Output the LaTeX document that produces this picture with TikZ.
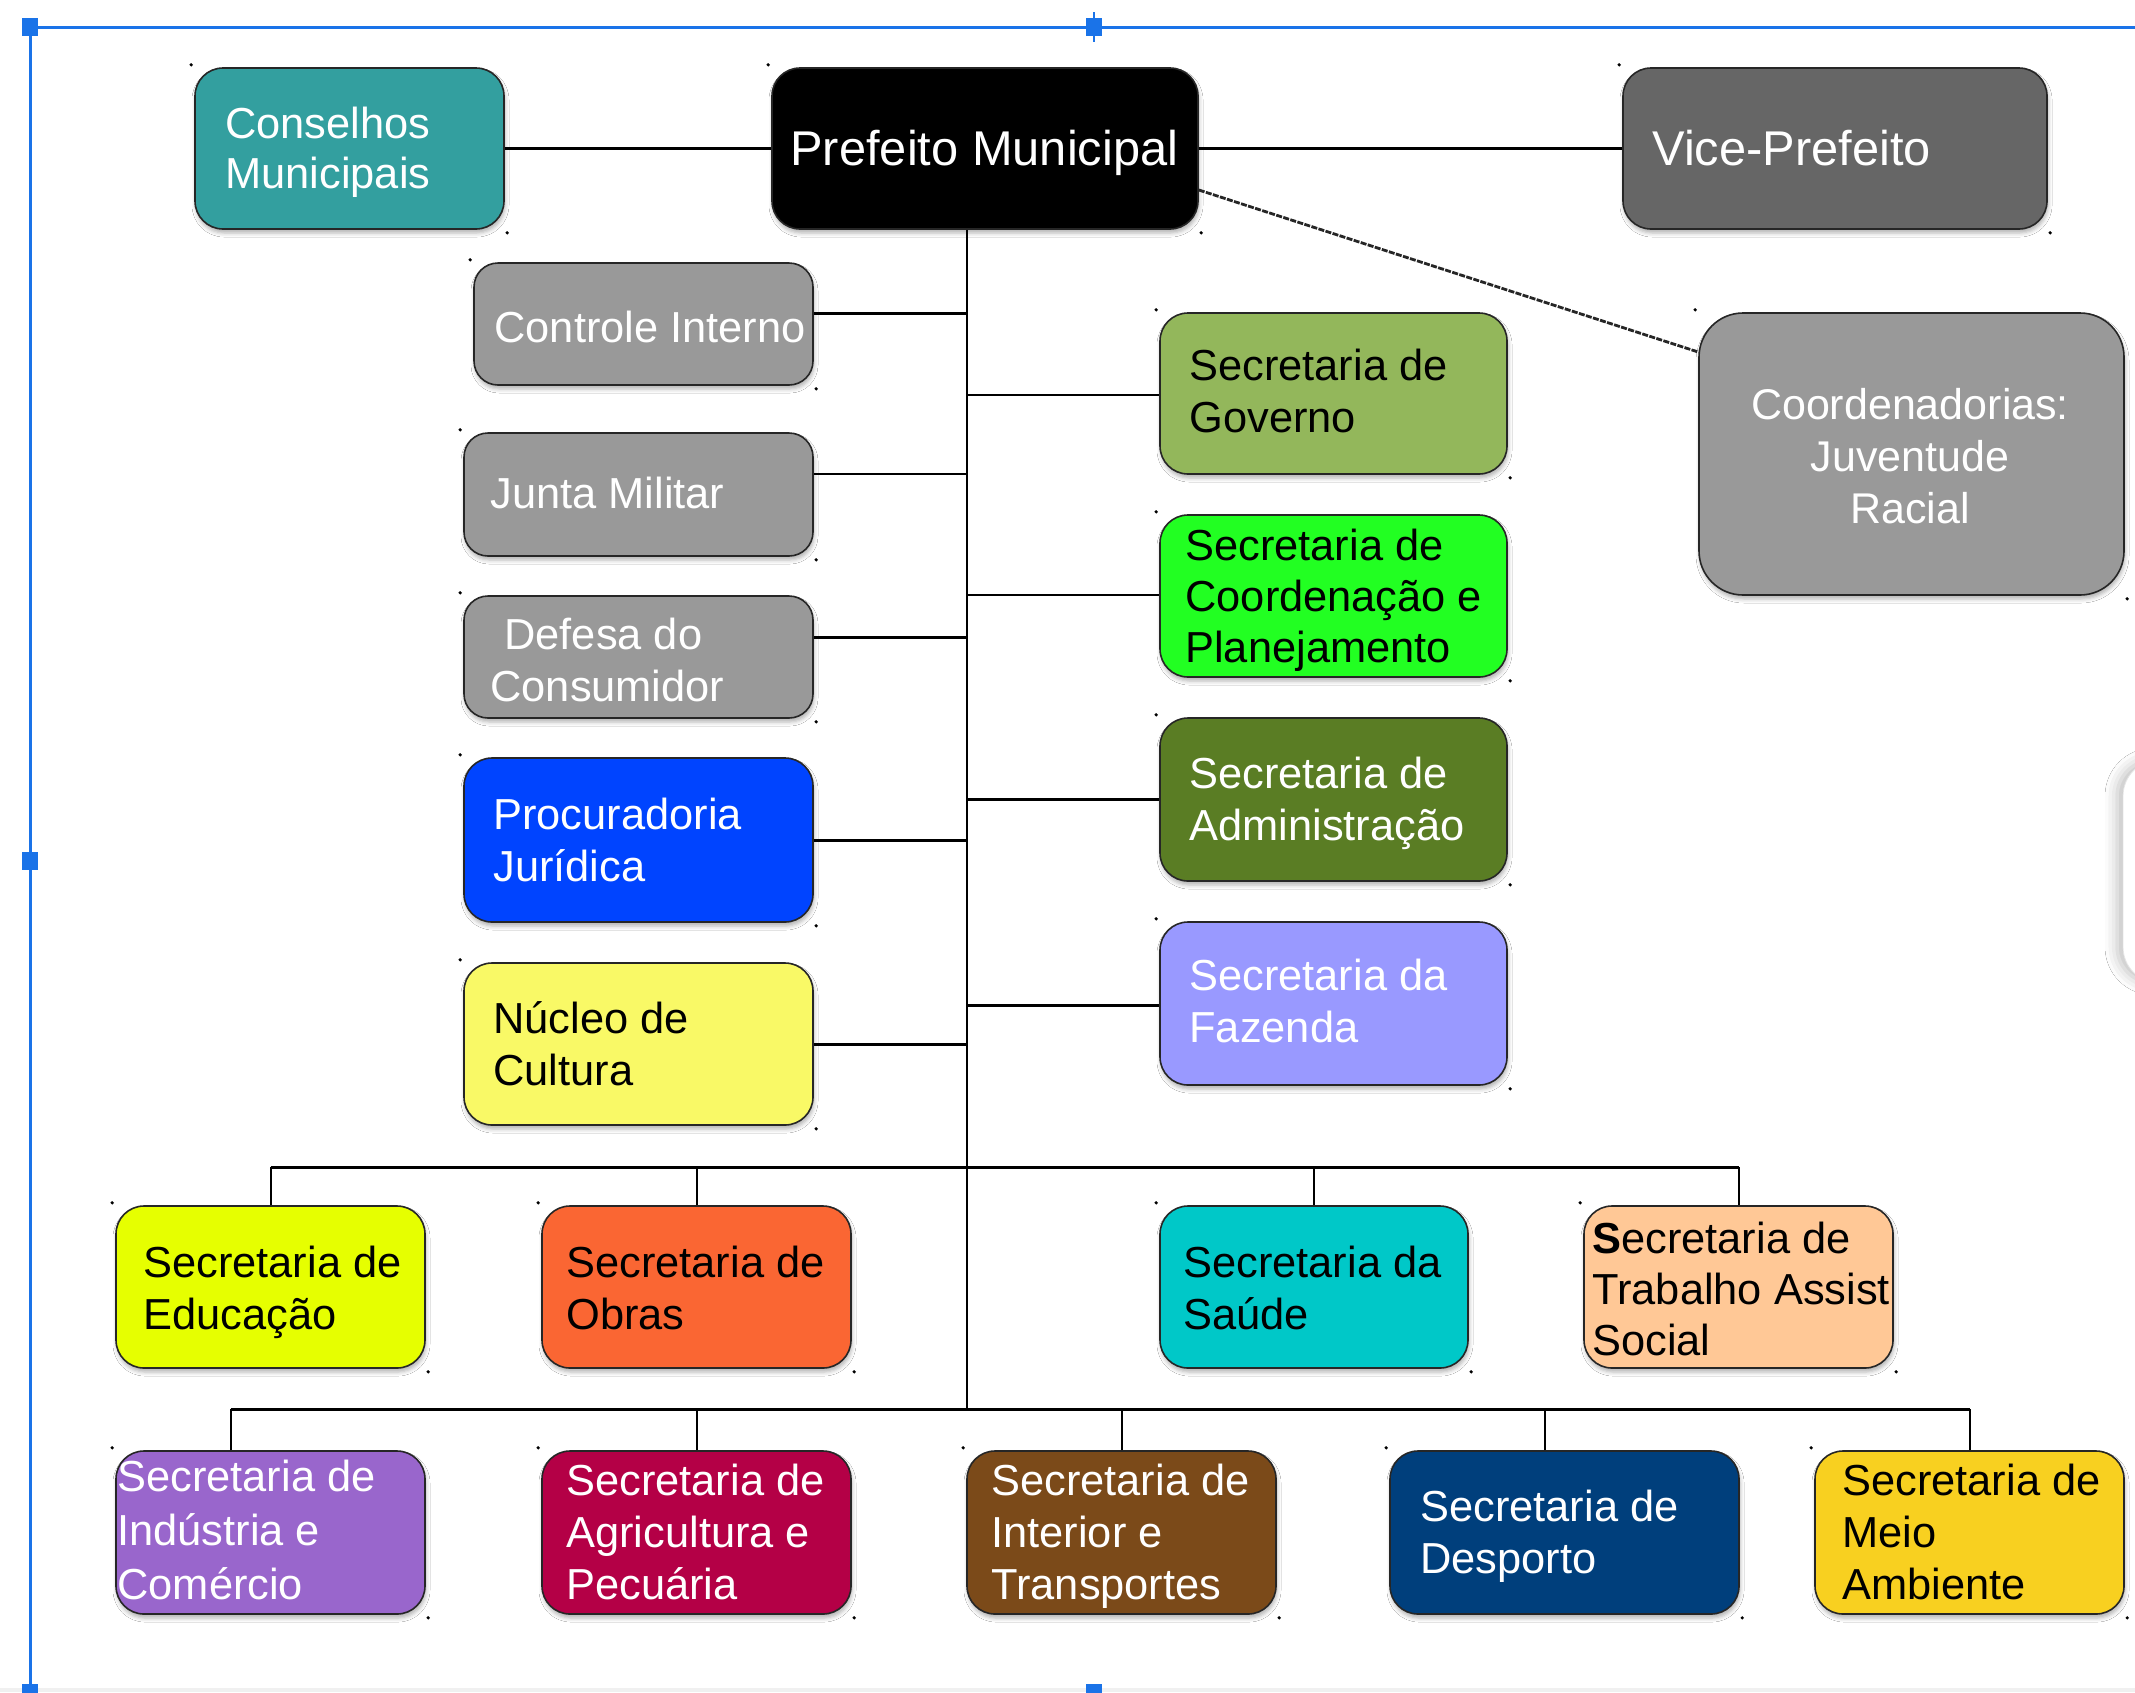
\documentclass[tikz,border=0pt]{standalone}
\usepackage{fontspec}
\setmainfont{Liberation Sans}
\usetikzlibrary{fit,shadows.blur}

\definecolor{selblue}{HTML}{1A73E8}
\definecolor{cteal}{HTML}{339F9F}
\definecolor{cvice}{HTML}{666666}
\definecolor{cgray}{HTML}{999999}
\definecolor{cprocur}{HTML}{0044FF}
\definecolor{cnucleo}{HTML}{F9F966}
\definecolor{cgov}{HTML}{93B75B}
\definecolor{cplan}{HTML}{22FF22}
\definecolor{cadmin}{HTML}{5A7D24}
\definecolor{cfaz}{HTML}{9999FF}
\definecolor{cedu}{HTML}{E6FF00}
\definecolor{cobras}{HTML}{FA6633}
\definecolor{csaude}{HTML}{00C8C8}
\definecolor{ctrab}{HTML}{FFC896}
\definecolor{cind}{HTML}{9966CC}
\definecolor{cagri}{HTML}{B40046}
\definecolor{cinter}{HTML}{7B4A19}
\definecolor{cdesp}{HTML}{003F7C}
\definecolor{cmeio}{HTML}{F8D020}

\tikzset{
  orgbox/.style={draw=black!85, line width=0.8pt, rounded corners=14pt, inner sep=0pt,
    blur shadow={shadow xshift=0.5pt, shadow yshift=-2pt, shadow blur radius=2pt, shadow opacity=30}},
  % labels are anchored on the baseline of their last line
  lbl/.style={anchor=base west, inner sep=0pt, align=left,
    font=\fontsize{21.7pt}{26pt}\selectfont},
  toptext/.style={font=\fontsize{24.4pt}{29pt}\selectfont},
  conn/.style={line width=1.5pt, draw=black},
  connthin/.style={line width=1pt, draw=black},
  diagline/.style={line width=1.4pt, draw=black!85, dash pattern=on 3pt off 0.7pt},
  selframe/.style={line width=1.5pt, draw=selblue},
  selhandle/.style={fill=selblue},
  cornerdot/.style={fill=black}
}

\begin{document}
\begin{tikzpicture}[x=0.5pt, y=-0.5pt]
  \fill[white] (0,0) rectangle (2135,1692);
  \useasboundingbox (0,0) rectangle (2135,1692);

  % side panel peeking in at the right edge
  \fill[white, draw=black!10, rounded corners=18pt,
    blur shadow={shadow xshift=-3pt, shadow yshift=0pt, shadow blur radius=6pt, shadow opacity=25}]
    (2123,760) rectangle (2200,983);

  % top level
  \node[orgbox, fill=cteal, fit={(195,68) (504,229)}] (consel) {};
  \node[orgbox, fill=black, fit={(772,68) (1198,229)}] (pref) {};
  \node[orgbox, fill=cvice, fit={(1623,68) (2047,229)}] (vice) {};
  \node[orgbox, fill=cgray, rounded corners=22pt, fit={(1699,313) (2124,595)}] (coord) {};

  % left column
  \node[orgbox, fill=cgray, rounded corners=12pt, fit={(474,263) (813,385)}] (ctrl) {};
  \node[orgbox, fill=cgray, rounded corners=12pt, fit={(464,433) (813,556)}] (junta) {};
  \node[orgbox, fill=cgray, rounded corners=12pt, fit={(464,596) (813,718)}] (defesa) {};
  \node[orgbox, fill=cprocur, fit={(464,758) (813,922)}] (procur) {};
  \node[orgbox, fill=cnucleo, fit={(464,963) (813,1125)}] (nucleo) {};

  % right column
  \node[orgbox, fill=cgov, fit={(1160,313) (1507,474)}] (gov) {};
  \node[orgbox, fill=cplan, fit={(1160,515) (1507,677)}] (plan) {};
  \node[orgbox, fill=cadmin, fit={(1160,718) (1507,881)}] (admin) {};
  \node[orgbox, fill=cfaz, fit={(1160,922) (1507,1085)}] (faz) {};

  % third row
  \node[orgbox, fill=cedu, fit={(116,1206) (425,1368)}] (edu) {};
  \node[orgbox, fill=cobras, fit={(542,1206) (851,1368)}] (obras) {};
  \node[orgbox, fill=csaude, fit={(1160,1206) (1468,1368)}] (saude) {};
  \node[orgbox, fill=ctrab, fit={(1584,1206) (1893,1368)}] (trab) {};

  % fourth row
  \node[orgbox, fill=cind, fit={(116,1451) (425,1614)}] (ind) {};
  \node[orgbox, fill=cagri, fit={(542,1451) (851,1614)}] (agri) {};
  \node[orgbox, fill=cinter, fit={(967,1451) (1276,1614)}] (inter) {};
  \node[orgbox, fill=cdesp, fit={(1390,1451) (1739,1614)}] (desp) {};
  \node[orgbox, fill=cmeio, fit={(1815,1451) (2124,1614)}] (meio) {};

  % small handles at the box corners
  \foreach \b in {consel,pref,vice,coord,ctrl,junta,defesa,procur,nucleo,gov,plan,admin,faz,edu,obras,saude,trab,ind,agri,inter,desp,meio}{
    \fill[cornerdot] ([xshift=-1.5pt,yshift=1.2pt]\b.north west) circle (0.9pt);
    \fill[cornerdot] ([xshift=1.2pt,yshift=-1.5pt]\b.south east) circle (0.9pt);
  }

  % labels
  \node[lbl, text=white, font=\fontsize{21.7pt}{25pt}\selectfont] (consel-t) at (225,188) {Conselhos\\Municipais};
  \node[lbl, toptext, text=white] (pref-t) at (790,165) {Prefeito Municipal};
  \node[lbl, toptext, text=white] (vice-t) at (1652,165) {Vice-Prefeito};
  \node[anchor=base, inner sep=0pt, align=center, text=white,
    font=\fontsize{21.5pt}{26pt}\selectfont] (coord-t) at (1910,523) {Coordenadorias:\\Juventude\\Racial};

  \node[lbl, text=white] (ctrl-t) at (494,342) {Controle Interno};
  \node[lbl, text=white] (junta-t) at (490,508) {Junta Militar};
  \node[lbl, text=white] (defesa-t) at (490,701) {\hspace*{7pt}Defesa do\\Consumidor};
  \node[lbl, text=white] (procur-t) at (493,881) {Procuradoria\\Jurídica};
  \node[lbl, text=black] (nucleo-t) at (493,1085) {Núcleo de\\Cultura};

  \node[lbl, text=black] (gov-t) at (1189,432) {Secretaria de\\Governo};
  \node[lbl, text=black, font=\fontsize{21.7pt}{25.5pt}\selectfont] (plan-t) at (1185,662) {Secretaria de\\Coordenação e\\Planejamento};
  \node[lbl, text=white] (admin-t) at (1189,840) {Secretaria de\\Administração};
  \node[lbl, text=white] (faz-t) at (1189,1042) {Secretaria da\\Fazenda};

  \node[lbl, text=black] (edu-t) at (143,1329) {Secretaria de\\Educação};
  \node[lbl, text=black] (obras-t) at (566,1329) {Secretaria de\\Obras};
  \node[lbl, text=black] (saude-t) at (1183,1329) {Secretaria da\\Saúde};
  \node[lbl, text=black, font=\fontsize{21.7pt}{25.5pt}\selectfont] (trab-t) at (1592,1355) {\textbf{S}ecretaria de\\Trabalho Assist\\Social};

  \node[lbl, text=white, font=\fontsize{21.7pt}{26.8pt}\selectfont] (ind-t) at (117,1599) {Secretaria de\\Indústria e\\Comércio};
  \node[lbl, text=white] (agri-t) at (566,1599) {Secretaria de\\Agricultura e\\Pecuária};
  \node[lbl, text=white] (inter-t) at (991,1599) {Secretaria de\\Interior e\\Transportes};
  \node[lbl, text=white] (desp-t) at (1420,1573) {Secretaria de\\Desporto};
  \node[lbl, text=black] (meio-t) at (1842,1599) {Secretaria de\\Meio\\Ambiente};

  % connectors
  \coordinate (tBot) at (967,1409);
  \coordinate (bus1) at (967,1167);
  \draw[connthin] (pref.south -| tBot) -- (tBot);
  \draw[conn] (consel.east) -- (pref.west);
  \draw[conn] (pref.east) -- (vice.west);
  \draw[diagline] ([yshift=-20.75pt]pref.east) -- ([yshift=51pt]coord.west);

  \coordinate (kCtrl) at (967,313);
  \coordinate (kJunta) at (967,474);
  \coordinate (kDef) at (967,637);
  \coordinate (kProc) at (967,840);
  \coordinate (kNuc) at (967,1044);
  \draw[conn] (kCtrl) -- (kCtrl -| ctrl.east);
  \draw[connthin] (kJunta) -- (kJunta -| junta.east);
  \draw[conn] (kDef) -- (kDef -| defesa.east);
  \draw[conn] (kProc) -- (kProc -| procur.east);
  \draw[conn] (kNuc) -- (kNuc -| nucleo.east);

  \coordinate (kGov) at (967,395);
  \coordinate (kPlan) at (967,595);
  \coordinate (kAdm) at (967,799);
  \coordinate (kFaz) at (967,1005);
  \draw[connthin] (kGov) -- (kGov -| gov.west);
  \draw[connthin] (kPlan) -- (kPlan -| plan.west);
  \draw[conn] (kAdm) -- (kAdm -| admin.west);
  \draw[conn] (kFaz) -- (kFaz -| faz.west);

  \draw[conn] (edu.north |- bus1) -- (trab.north |- bus1);
  \foreach \b in {edu,obras,saude,trab}{
    \draw[connthin] (\b.north) -- (\b.north |- bus1);
  }

  \coordinate (indDrop) at ([xshift=-20pt]ind.north);
  \coordinate (despDrop) at ([xshift=-9.75pt]desp.north);
  \draw[conn] (indDrop |- tBot) -- (meio.north |- tBot);
  \draw[connthin] (indDrop) -- (indDrop |- tBot);
  \draw[connthin] (despDrop) -- (despDrop |- tBot);
  \foreach \b in {agri,inter,meio}{
    \draw[connthin] (\b.north) -- (\b.north |- tBot);
  }

  % selection frame
  \fill[black!6] (0,1688) rectangle (2135,1692);
  \draw[selframe] (30,27) -- (2135,27);
  \draw[selframe] (30,27) -- (30,1692);
  \draw[selblue, line width=0.6pt] (1094,12) -- (1094,42);
  \fill[selhandle] (22,18) rectangle (38,36);
  \fill[selhandle] (1086,18) rectangle (1102,36);
  \fill[selhandle] (22,852) rectangle (38,870);
  \fill[selhandle] (1086,1684) rectangle (1102,1700);
  \fill[selhandle] (22,1684) rectangle (38,1700);
\end{tikzpicture}
\end{document}
